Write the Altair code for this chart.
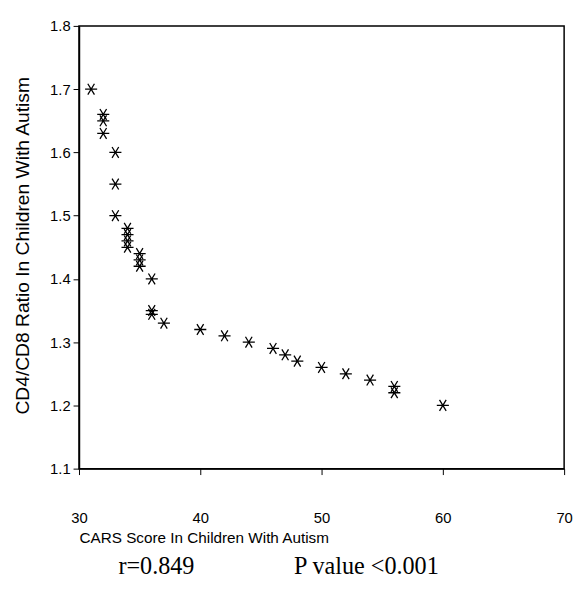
import altair as alt
import pandas as pd

# CARS score (x) and CD4/CD8 ratio (y)
cars = [31, 32, 32, 32, 33, 33, 33, 34, 34, 34, 34, 35, 35, 35, 36, 36, 36,
        37, 40, 42, 44, 46, 47, 48, 50, 52, 54, 56, 56, 60]
ratio = [1.70, 1.66, 1.65, 1.63, 1.60, 1.55, 1.50, 1.48, 1.47, 1.46, 1.45,
         1.44, 1.43, 1.42, 1.40, 1.35, 1.344, 1.33, 1.32, 1.31, 1.30, 1.29,
         1.28, 1.27, 1.26, 1.25, 1.24, 1.23, 1.22, 1.20]
x_ticks = [30, 40, 50, 60, 70]
y_ticks = [1.1, 1.2, 1.3, 1.4, 1.5, 1.6, 1.7, 1.8]
stats_text = ["r=0.849", "P value <0.001"]

df = pd.DataFrame({"cars": cars, "ratio": ratio})

W, H = 492, 449
SANS = "Liberation Sans"

star = "M-1,0L1,0M-0.55,-0.9L0.55,0.9M-0.55,0.9L0.55,-0.9"

points = alt.Chart(df).mark_point(
    shape=star, size=150, filled=False, stroke="black", strokeWidth=1.3,
    opacity=1
).encode(
    x=alt.X("cars:Q",
            scale=alt.Scale(domain=[30, 70], nice=False, zero=False),
            axis=alt.Axis(values=x_ticks, title="CARS Score In Children With Autism",
                          grid=False, labelFontSize=15, labelFont=SANS,
                          labelPadding=37, tickSize=6, labelColor="black",
                          titleFont=SANS, titleFontSize=15.5, titleFontWeight="normal",
                          titleColor="black", titleAnchor="start", titleAlign="left",
                          titleX=0, titleY=75, titleBaseline="alphabetic",
                          labelFlush=False, labelOverlap=False)),
    y=alt.Y("ratio:Q",
            scale=alt.Scale(domain=[1.1, 1.8], nice=False, zero=False),
            axis=alt.Axis(values=y_ticks, format=".1f",
                          title="CD4/CD8 Ratio In Children With Autism",
                          grid=False, labelFontSize=15, labelFont=SANS,
                          labelPadding=3, tickSize=6, labelColor="black",
                          titleFont=SANS, titleFontSize=19.5, titleFontWeight="normal",
                          titleColor="black", titleX=-57, titleY=H / 2 - 2,
                          titleAngle=-90, titleAlign="center", titleBaseline="middle",
                          labelFlush=False, labelOverlap=False)),
)

ann_pos = pd.DataFrame({"label": stats_text, "px": [40, 218]})
texts = alt.Chart(ann_pos).mark_text(
    font="Liberation Serif", fontSize=24.5, align="left", baseline="alphabetic",
    color="black"
).encode(
    text="label:N",
    x=alt.X("px:Q", scale=None),
    y=alt.value(H + 107),
)

chart = alt.layer(points, texts).properties(
    width=W, height=H,
    autosize=alt.AutoSizeParams(type="none"),
    padding={"left": 72, "top": 14, "right": 9, "bottom": 125},
).configure_axis(
    domainColor="black", domainWidth=1.5, tickColor="black", tickWidth=1
).configure_view(
    stroke="black", strokeWidth=1.5
)

chart.save("out.html", embed_options={"renderer": "svg", "actions": False})
